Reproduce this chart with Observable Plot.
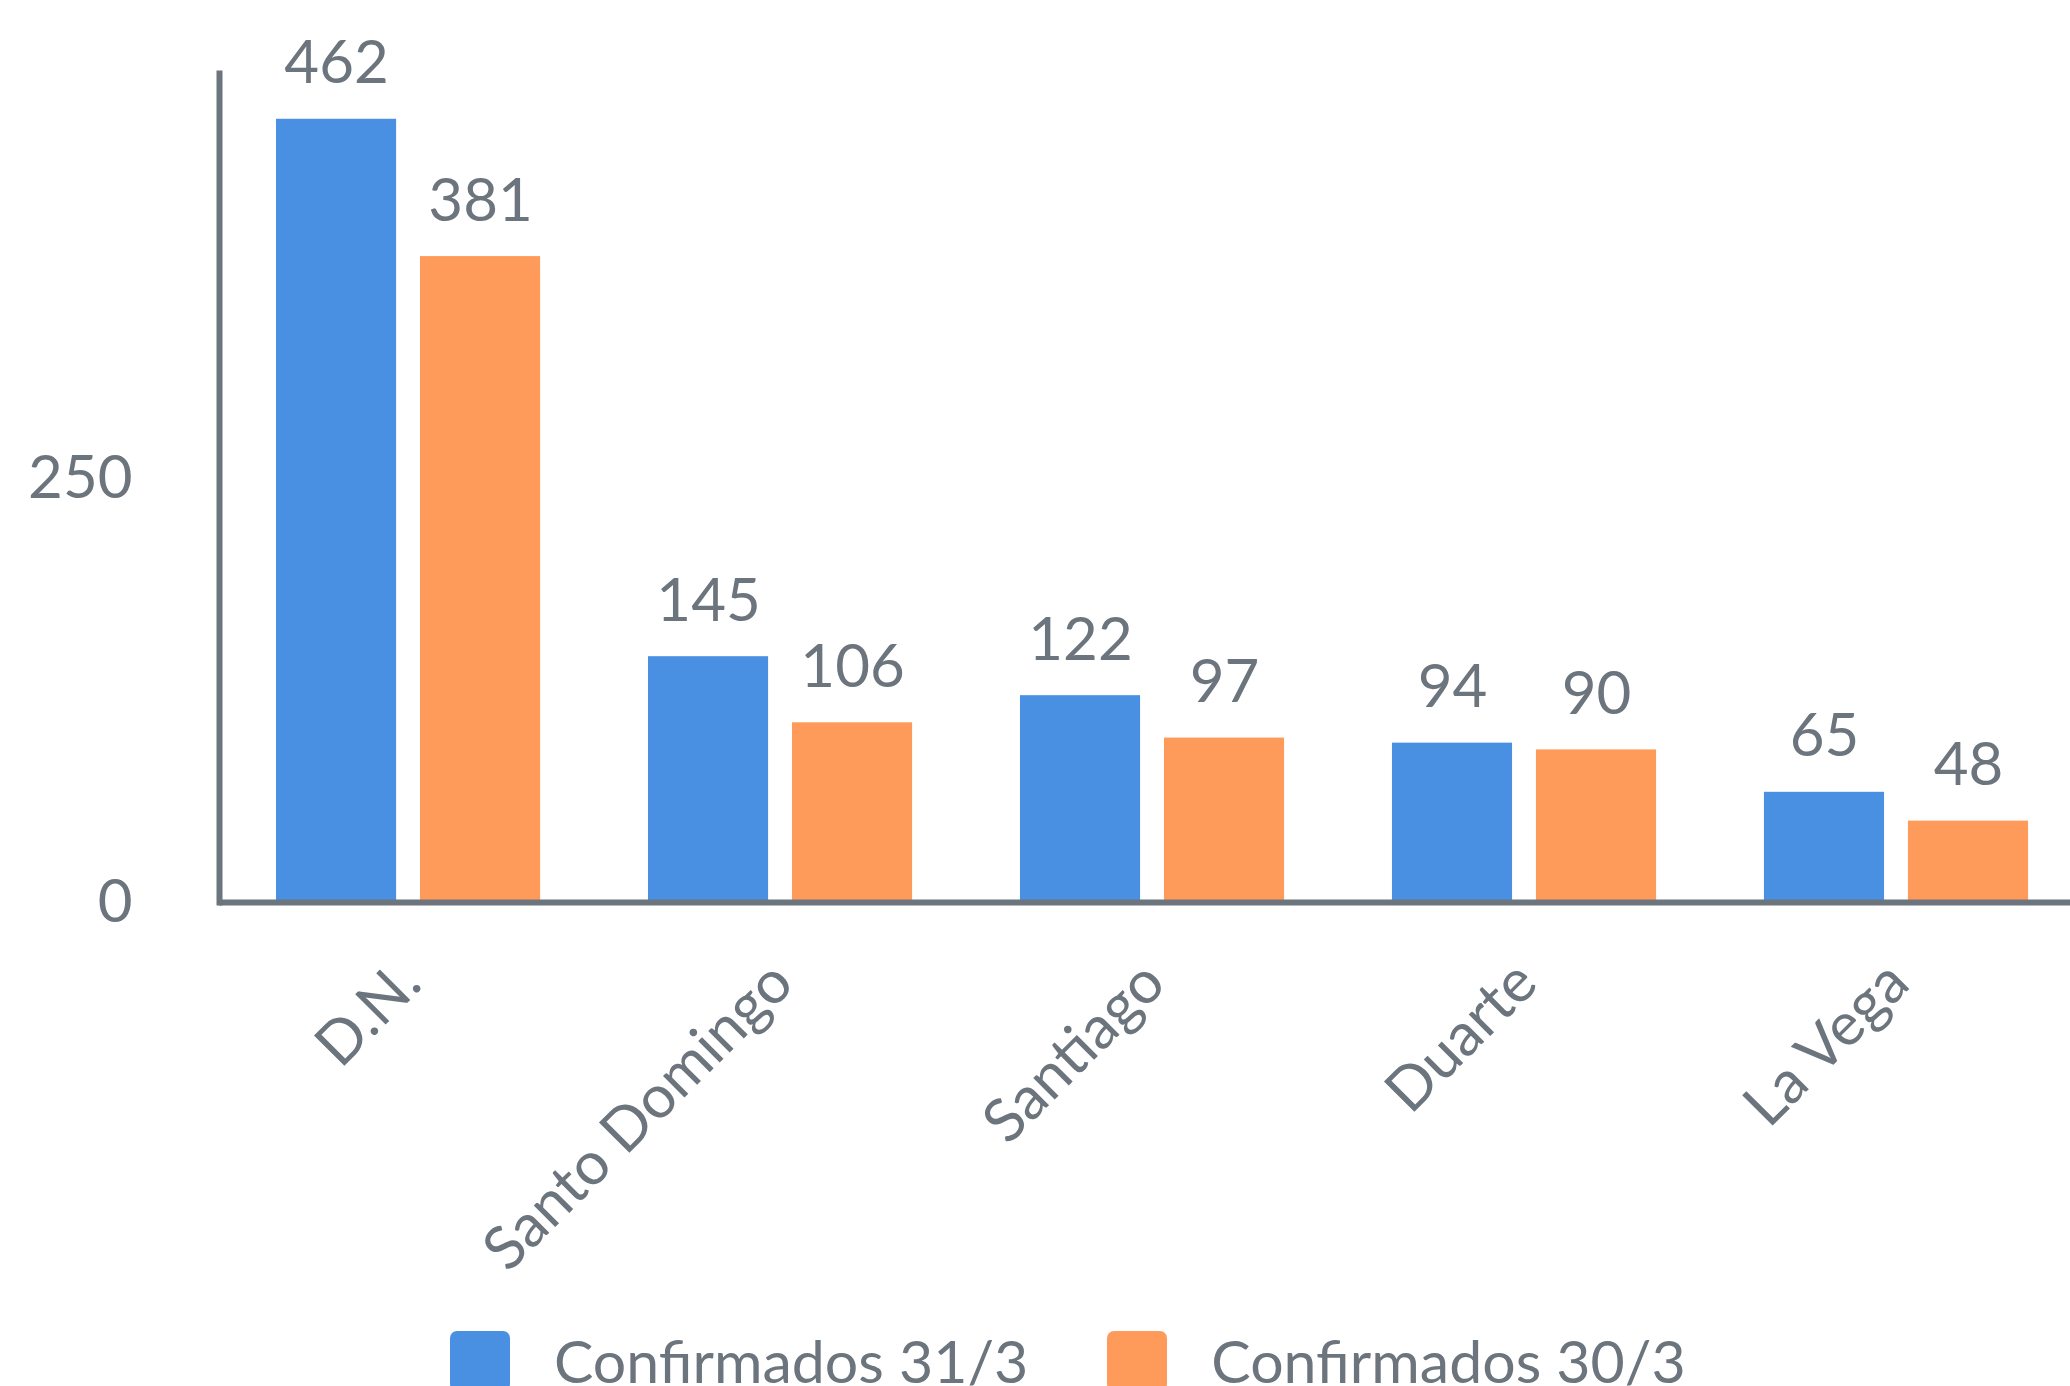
<!DOCTYPE html>
<html>
<head>
<meta charset="utf-8">
<script src="https://cdn.jsdelivr.net/npm/d3@7"></script>
<script src="https://cdn.jsdelivr.net/npm/@observablehq/plot@0.6"></script>
<style>
  html, body { margin: 0; padding: 0; background: #fff; overflow: hidden; }
  body { font-family: Lato, "Open Sans", sans-serif; color: #6c757d; width: 2070px; height: 1386px; }
  #chart svg { display: block; }
  .legend { display: flex; align-items: flex-start; padding-left: 450px; margin-top: 11px; }
  .legend .item { display: flex; align-items: flex-start; }
  .legend .sw { width: 60px; height: 60px; border-radius: 7px; margin-right: 44px; }
  .legend .lab { font-size: 59px; line-height: 1; white-space: nowrap; }
</style>
</head>
<body>
<div id="chart"></div>
<script>
const categories = ["D.N.", "Santo Domingo", "Santiago", "Duarte", "La Vega"];
const confirmados31 = [462, 145, 122, 94, 65];
const confirmados30 = [381, 106, 97, 90, 48];
const seriesNames = ["Confirmados 31/3", "Confirmados 30/3"];
const seriesColors = ["#4a90e2", "#ff9b5a"];
const yTicks = [0, 250];

const data31 = categories.map((c, i) => ({cat: c, v: confirmados31[i]}));
const data30 = categories.map((c, i) => ({cat: c, v: confirmados30[i]}));

const gray = "#6c757d";
const fs = 60;

const plot = Plot.plot({
  width: 2070,
  height: 1320,
  marginLeft: 219,
  marginRight: 0,
  marginTop: 73,
  marginBottom: 418,
  style: {fontFamily: "Lato, 'Open Sans', sans-serif", fontSize: fs + "px", color: gray, background: "#fff"},
  x: {domain: categories, paddingInner: 0.29, paddingOuter: 0.133, align: 0.576, round: false},
  y: {domain: [0, 489]},
  marks: [
    Plot.barY(data31, {x: "cat", y: "v", fill: seriesColors[0], insetRight: 144}),
    Plot.barY(data30, {x: "cat", y: "v", fill: seriesColors[1], insetLeft: 144}),
    Plot.text(data31, {x: "cat", y: "v", text: d => String(d.v), dx: -72, dy: -36, lineAnchor: "bottom", fontSize: fs, fill: gray}),
    Plot.text(data30, {x: "cat", y: "v", text: d => String(d.v), dx: 72, dy: -36, lineAnchor: "bottom", fontSize: fs, fill: gray}),
    Plot.frame({anchor: "left", stroke: gray, strokeWidth: 6}),
    Plot.ruleY([0], {stroke: gray, strokeWidth: 6}),
    Plot.axisY({ticks: yTicks, tickSize: 0, tickPadding: 87, label: null, fontSize: fs, tickFormat: d => String(d)}),
    Plot.axisX({tickRotate: -45, tickSize: 0, tickPadding: 70, dx: 2, label: null, fontSize: fs})
  ]
});
document.getElementById("chart").appendChild(plot);

const legend = document.createElement("div");
legend.className = "legend";
seriesNames.forEach((name, i) => {
  const item = document.createElement("div");
  item.className = "item";
  if (i > 0) item.style.marginLeft = "79px";
  const sw = document.createElement("div");
  sw.className = "sw";
  sw.style.background = seriesColors[i];
  const lab = document.createElement("div");
  lab.className = "lab";
  lab.textContent = name;
  item.appendChild(sw);
  item.appendChild(lab);
  legend.appendChild(item);
});
document.body.appendChild(legend);
</script>
</body>
</html>
